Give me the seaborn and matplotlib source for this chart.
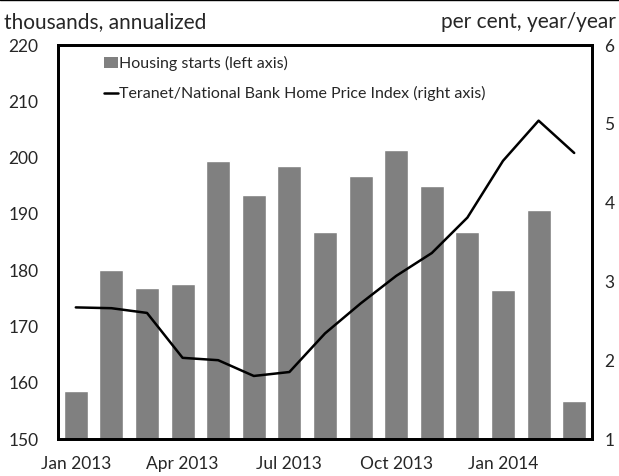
import matplotlib
matplotlib.use("Agg")
import matplotlib.pyplot as plt
import seaborn as sns
import numpy as np
import pandas as pd
from matplotlib.patches import Patch
from matplotlib.lines import Line2D

months = ["Jan 2013", "Feb 2013", "Mar 2013", "Apr 2013", "May 2013", "Jun 2013",
          "Jul 2013", "Aug 2013", "Sep 2013", "Oct 2013", "Nov 2013", "Dec 2013",
          "Jan 2014", "Feb 2014", "Mar 2014"]
housing_starts = [158.5, 180.0, 176.8, 177.5, 199.4, 193.3, 198.5, 186.7,
                  196.7, 201.3, 194.9, 186.7, 176.4, 190.6, 156.8]
hpi = [2.67, 2.66, 2.60, 2.03, 2.00, 1.80, 1.85, 2.34,
       2.72, 3.07, 3.36, 3.81, 4.53, 5.04, 4.63]
tick_labels = ["Jan 2013", "Apr 2013", "Jul 2013", "Oct 2013", "Jan 2014"]

sns.set_style("white")
plt.rcParams["font.family"] = ["Lato", "DejaVu Sans"]

df = pd.DataFrame({"month": months, "starts": housing_starts, "hpi": hpi,
                   "pos": np.arange(len(months))})

fig = plt.figure(figsize=(6.19, 4.76), dpi=100)
ax = fig.add_axes([58/619, 1-439/476, (592-58)/619, (439-45)/476])

sns.barplot(data=df, x="month", y="starts", color="#808080", saturation=1,
            width=0.67, ax=ax, zorder=1)
ax.set_ylim(150, 220)
ax.set_yticks(np.arange(150, 221, 10))
ax.set_xlim(-0.5, len(months) - 0.5)
ax.set_xlabel("")
ax.set_ylabel("")

label_pos = [months.index(m) for m in tick_labels]
ax.set_xticks(label_pos)
ax.set_xticklabels(tick_labels, fontsize=12.5)
ax.set_xticks([2.5, 5.5, 8.5, 11.5], minor=True)
ax.tick_params(axis="x", which="major", length=0, pad=12)
ax.tick_params(axis="x", which="minor", direction="in", length=6, width=2, color="black")
ax.tick_params(axis="y", length=0, labelsize=12.5, pad=14)

ax2 = ax.twinx()
sns.lineplot(data=df, x="pos", y="hpi", color="black", linewidth=1.8, ax=ax2)
ax2.set_ylim(1, 6)
ax2.set_yticks(np.arange(1, 7, 1))
ax2.tick_params(axis="y", length=0, labelsize=12.5, pad=9)
ax2.set_xlim(-0.5, len(months) - 0.5)
ax2.set_ylabel("")
ax2.set_xlabel("")

for a in (ax, ax2):
    for s in a.spines.values():
        s.set_linewidth(2)
        s.set_color("black")

handles = [Patch(facecolor="#808080", edgecolor="none"),
           Line2D([0], [0], color="black", linewidth=1.8)]
labels = ["Housing starts (left axis)",
          "Teranet/National Bank Home Price Index (right axis)"]
leg = ax2.legend(handles, labels, loc="upper left", bbox_to_anchor=(0.065, 1.0),
                 frameon=False, fontsize=11.5, handlelength=0.9, handletextpad=0.05,
                 labelspacing=0.95, borderaxespad=0.3)

fig.text(4/619, 1-22/476, "thousands, annualized", fontsize=15, ha="left", va="center")
fig.text(616/619, 1-22/476, "per cent, year/year", fontsize=15, ha="right", va="center")
fig.add_artist(Line2D([0, 1], [0.999, 0.999], color="black", linewidth=1,
                      transform=fig.transFigure))

fig.savefig("out.png", dpi=100)
